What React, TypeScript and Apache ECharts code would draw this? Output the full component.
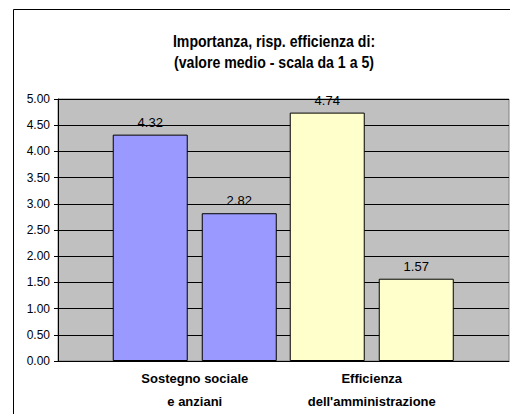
import React, { useEffect, useRef } from "react";
import * as echarts from "echarts";

const titleLines = ["Importanza, risp. efficienza di:", "(valore medio - scala da 1 a 5)"];
const categories = ["Sostegno sociale\ne anziani", "Efficienza\ndell'amministrazione"];
const importanza = [4.32, 4.74];
const efficienza = [2.82, 1.57];
const categoryColors = ["#9999FF", "#FFFFCC"];
const yTicks = { min: 0, max: 5, interval: 0.5 };

const ARIAL = "'Liberation Sans', Arial, sans-serif";

export default function App() {
  const ref = useRef<HTMLDivElement>(null);
  useEffect(() => {
    if (!ref.current) return;
    const chart = echarts.init(ref.current, null, { renderer: "svg" });
    const makeSeries = (name: string, values: number[]) => ({
      name,
      type: "bar",
      xAxisIndex: 1,
      yAxisIndex: 1,
      barWidth: 75,
      barGap: "18.7%",
      data: values.map((v, i) => ({
        value: v,
        itemStyle: { color: categoryColors[i], borderColor: "#000", borderWidth: 1 },
      })),
      label: {
        show: true,
        position: "top",
        distance: 6,
        formatter: (p: any) => Number(p.value).toFixed(2),
        fontFamily: ARIAL,
        fontSize: 13,
        color: "#000",
      },
      z: 3,
    });
    chart.setOption({
      animation: false,
      backgroundColor: "#fff",
      graphic: [
        {
          type: "text",
          x: 274,
          y: 30.5,
          scaleX: 0.855,
          silent: true,
          style: {
            text: titleLines.join("\n"),
            fontFamily: ARIAL,
            fontSize: 16.5,
            fontWeight: "bold",
            lineHeight: 21,
            fill: "#000",
            align: "center",
            verticalAlign: "top",
          },
          z: 50,
        },
        {
          type: "rect",
          shape: { x: 13.5, y: 9.5, width: 700, height: 700 },
          style: { fill: "none", stroke: "#000", lineWidth: 1 },
          silent: true,
          z: 100,
        },
      ],
      grid: [
        {
          left: 58,
          top: 99,
          width: 451,
          height: 262,
          show: true,
          backgroundColor: "#C0C0C0",
          borderColor: "#808080",
          borderWidth: 1,
        },
        { left: 106.25, top: 99, width: 354, height: 262 },
      ],
      xAxis: [
        {
          type: "category",
          gridIndex: 0,
          data: [""],
          axisLine: { show: true, lineStyle: { color: "#000", width: 1 } },
          axisTick: { show: false },
          axisLabel: { show: false },
        },
        {
          type: "category",
          gridIndex: 1,
          data: categories,
          axisLine: { show: false },
          axisTick: { show: false },
          axisLabel: {
            margin: 6,
            fontFamily: ARIAL,
            fontSize: 13,
            fontWeight: "bold",
            lineHeight: 23,
            color: "#000",
            interval: 0,
          },
        },
      ],
      yAxis: [
        {
          type: "value",
          gridIndex: 0,
          min: yTicks.min,
          max: yTicks.max,
          interval: yTicks.interval,
          axisLine: { show: true, lineStyle: { color: "#000", width: 1 } },
          axisTick: { show: true, length: 4, lineStyle: { color: "#000" } },
          axisLabel: {
            margin: 8,
            formatter: (v: number) => v.toFixed(2),
            fontFamily: ARIAL,
            fontSize: 12,
            color: "#000",
          },
          splitLine: { show: true, lineStyle: { color: "#000", width: 1 } },
        },
        {
          type: "value",
          gridIndex: 1,
          min: yTicks.min,
          max: yTicks.max,
          interval: yTicks.interval,
          show: false,
          splitLine: { show: false },
        },
      ],
      series: [makeSeries("Importanza", importanza), makeSeries("Efficienza", efficienza)],
    });
    return () => chart.dispose();
  }, []);
  return (
    <div
      ref={ref}
      style={{ position: "absolute", left: 0, top: 0, width: 510, height: 414 }}
    />
  );
}
